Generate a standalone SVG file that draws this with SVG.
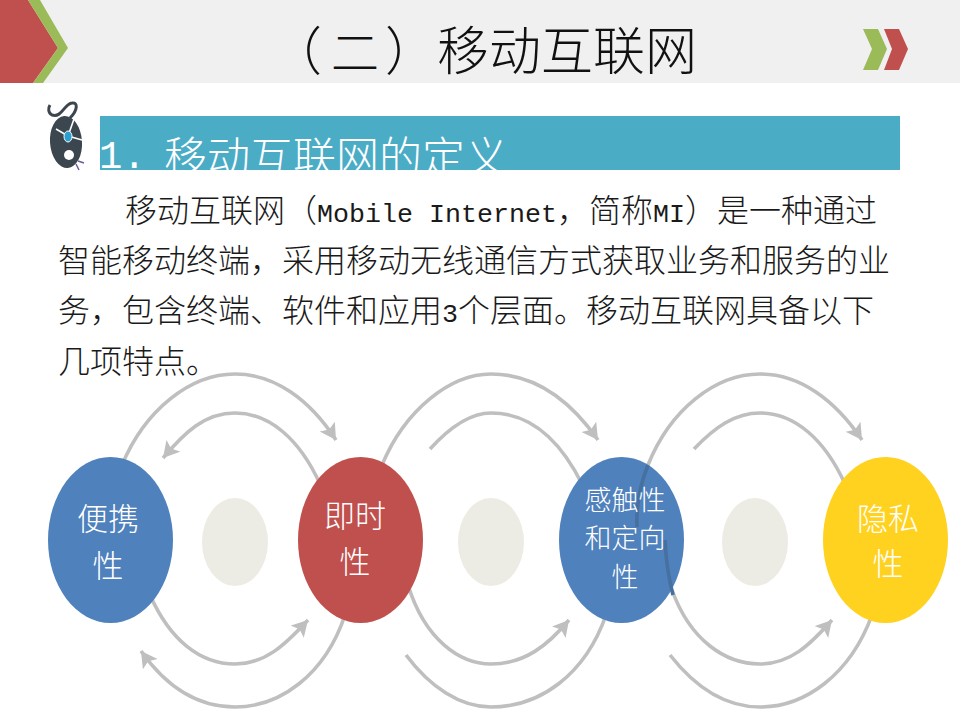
<svg xmlns="http://www.w3.org/2000/svg" width="960" height="720" viewBox="0 0 960 720">
<style>
text{font-family:"Noto Sans CJK SC","Noto Sans",sans-serif}
.t{font-size:32px;fill:#1a1a1a;font-weight:300}
.m{font-family:"Liberation Mono",monospace;font-size:26.67px}
.n{font-size:31px;fill:#fff;text-anchor:middle;font-weight:300}
.n2{font-size:27px;fill:#fff;text-anchor:middle;font-weight:300}
.a{fill:none;stroke:#bfbfbf;stroke-width:3.6}
.s{fill:#edece4}
</style>
<defs>
<marker id="h" markerUnits="userSpaceOnUse" markerWidth="20" markerHeight="20" refX="16" refY="9" orient="auto"><path d="M0 0L16 9L0 18L3.500 9Z" fill="#bfbfbf"/></marker>
<clipPath id="c"><rect x="100" y="116" width="800" height="54"/></clipPath>
</defs>
<rect width="960" height="720" fill="#fff"/>
<g id="header">
<rect width="960" height="83" fill="#f0f0f0"/>
<polygon points="0,0 28,0 58,48 33,83 0,83" fill="#c0504d"/>
<polygon points="28,0 40,0 68,48 43,83 33,83 58,48" fill="#9bbb59"/>
<polygon points="863,29 878,29 887,49 878,70 863,70 872,49" fill="#9bbb59"/>
<polygon points="884,29 899,29 908,49 899,70 884,70 892,49" fill="#c0504d"/>
<text x="270" y="70" font-size="52" fill="#111" font-weight="300">（</text>
<text x="331" y="70" font-size="48" fill="#111" font-weight="300">二</text>
<text x="385" y="70" font-size="52" fill="#111" font-weight="300">）移动互联网</text>
</g>
<g id="mouse">
<path d="M70 118C78 110 78 102 72 103C64 104 62 118 52 115C48 113 48 108 50 105" fill="none" stroke="#3b464f" stroke-width="3"/>
<ellipse cx="66" cy="142" rx="16" ry="26" fill="#3b464f" transform="rotate(-4 66 142)"/>
<path d="M56 129L68 136L74 119M68 136L82 140" fill="none" stroke="#fff" stroke-width="1.6"/>
<ellipse cx="68" cy="136.500" rx="4" ry="5.500" fill="#2b9fd0" stroke="#fff"/>
<circle cx="69" cy="155" r="5" fill="#fff"/>
<path d="M78 161L84 163M76 164L79 170" stroke="#6a5a9a" stroke-width="1.500" fill="none"/>
</g>
<g id="section">
<rect x="100" y="116" width="800" height="54" fill="#4bacc6"/>
<g clip-path="url(#c)">
<text x="99" y="168" font-size="39" fill="#fff" style="font-family:'Liberation Mono',monospace">1.</text>
<text x="164" y="173" font-size="43" fill="#fff" font-weight="300">移动互联网的定义</text></g>
</g>
<g id="body">
<text class="t" x="125" y="222">移动互联网（<tspan class="m">Mobile Internet</tspan>，简称<tspan class="m">MI</tspan>）是一种通过</text>
<text class="t" x="58" y="272">智能移动终端，采用移动无线通信方式获取业务和服务的业</text>
<text class="t" x="58" y="322">务，包含终端、软件和应用<tspan class="m">3</tspan>个层面。移动互联网具备以下</text>
<text class="t" x="58" y="373">几项特点。</text>
</g>
<g id="connectors">
<path class="a" d="M122 465C145 410 190 374 235 374C275 374 310 400 336 440" style="marker-end:url(#h)"/>
<path class="a" d="M320 484C300 440 270 413 235 413C205 413 185 432 163 458" style="marker-end:url(#h)"/>
<path class="a" d="M150 595C170 640 200 664 235 664C265 664 285 645 308 620" style="marker-end:url(#h)"/>
<path class="a" d="M345 615C325 675 280 707 235 707C195 707 165 685 141 651" style="marker-end:url(#h)"/>
<path class="a" d="M382 465C405 410 450 374 491 374C535 374 570 400 598 440" style="marker-end:url(#h)"/>
<path class="a" d="M430 449C450 427 470 413 491 413C530 413 560 440 582 484"/>
<path class="a" d="M408 585C425 640 460 664 491 664C525 664 548 645 569 620" style="marker-end:url(#h)"/>
<path class="a" d="M406 655C430 687 460 707 491 707C540 707 585 675 606 615"/>
<path class="a" d="M648 465C670 410 715 374 760 374C800 374 835 400 862 440" style="marker-end:url(#h)"/>
<path class="a" d="M694 449C715 427 735 413 760 413C795 413 825 440 845 484"/>
<path class="a" d="M672 590C690 640 725 664 760 664C790 664 810 645 832 620" style="marker-end:url(#h)"/>
<path class="a" d="M670 655C695 687 725 707 760 707C805 707 850 675 872 615"/>
</g>
<g id="n1"><ellipse cx="110.500" cy="540" rx="62.500" ry="83" fill="#4f81bd"/><text class="n" x="108" y="530">便携</text><text class="n" x="108" y="577">性</text></g>
<g id="n2"><ellipse cx="360.500" cy="540" rx="62.500" ry="83" fill="#c0504d"/><text class="n" x="355" y="527">即时</text><text class="n" x="355" y="573">性</text></g>
<g id="n3"><ellipse cx="621.500" cy="540" rx="62.500" ry="83" fill="#4f81bd"/>
<path d="M648 465C640 485 636 505 637 527M665 540C666 560 669 580 673 595" fill="none" stroke="#46709f" stroke-width="3.600"/>
<text class="n2" x="625" y="510">感触性</text><text class="n2" x="625" y="548">和定向</text><text class="n2" x="625" y="587">性</text></g>
<g id="n4"><ellipse cx="885.500" cy="540" rx="62.500" ry="83" fill="#ffd21f"/><text class="n" x="888" y="530">隐私</text><text class="n" x="888" y="575">性</text></g>
<g id="c1"><ellipse class="s" cx="235" cy="542" rx="33" ry="44"/></g>
<g id="c2"><ellipse class="s" cx="491" cy="542" rx="33" ry="44"/></g>
<g id="c3"><ellipse class="s" cx="755" cy="542" rx="33" ry="44"/></g>
</svg>
